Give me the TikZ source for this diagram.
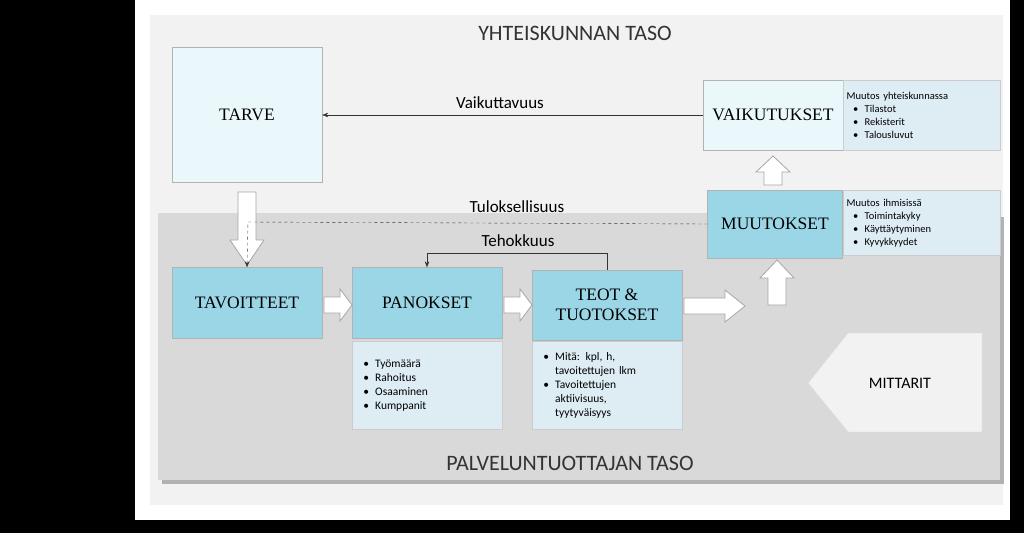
\documentclass[tikz,border=0pt]{standalone}
\usepackage{fontspec}
\setmainfont{Carlito}
\newfontfamily\serf{Liberation Serif}
\usetikzlibrary{arrows.meta,shapes.arrows}
\definecolor{dark}{HTML}{9ad6e6}
\definecolor{pale}{HTML}{eaf8fb}
\definecolor{side}{HTML}{deedf4}
\definecolor{panel}{HTML}{f2f2f2}
\definecolor{lower}{HTML}{d9d9d9}
\newcommand{\bul}[1]{\makebox[18pt][c]{\textbullet}#1}
\newcommand{\cont}[1]{\hspace*{18pt}#1}
\tikzset{
 bx/.style={draw=gray!60, fill=#1, font=\serf\fontsize{17.5}{20}\selectfont, align=center, inner sep=0pt},
 sd/.style={draw=gray!40, fill=side, font=\fontsize{10.5}{13}\selectfont, align=left, inner sep=3pt, anchor=north west},
 ld/.style={draw=gray!40, fill=side, font=\fontsize{11.5}{14}\selectfont, align=left, inner sep=4pt, anchor=north west},
 barr/.style={draw=gray!70, fill=white, line width=0.8pt},
 lbl/.style={font=\fontsize{17}{19}\selectfont},
}
\begin{document}
\begin{tikzpicture}[x=1pt,y=-1pt]
\fill[black] (0,0) rectangle (1024,533);
\useasboundingbox (0,0) rectangle (1024,533);
\fill[white] (135,0) rectangle (1010,520);
\fill[panel] (150,15) rectangle (1003,505);
\fill[gray!60] (162,217) rectangle (1004,484);
\fill[lower] (158,213) rectangle (1000,480);
\node[font=\fontsize{22}{24}\selectfont, text=black!80] (t1) at (575,33) {YHTEISKUNNAN TASO};
\node[font=\fontsize{22}{24}\selectfont, text=black!80] (t2) at (570,463) {PALVELUNTUOTTAJAN TASO};
% boxes
\node[bx=pale, minimum width=150pt, minimum height=135pt] (tarve) at (247,115) {TARVE};
\node[bx=pale, minimum width=140pt, minimum height=70pt] (vaik) at (773,115) {VAIKUTUKSET};
\node[sd, minimum width=157pt, minimum height=70pt, text width=150pt] (vs) at (843,80) {Muutos yhteiskunnassa\\
\bul{Tilastot}\\\bul{Rekisterit}\\\bul{Talousluvut}};
\node[bx=dark, minimum width=135pt, minimum height=68pt] (muut) at (775,224) {MUUTOKSET};
\node[sd, minimum width=157pt, minimum height=65pt, text width=150pt] (ms) at (843,190) {Muutos ihmisissä\\
\bul{Toimintakyky}\\\bul{Käyttäytyminen}\\\bul{Kyvykkyydet}};
\node[bx=dark, minimum width=150pt, minimum height=71pt] (tav) at (247,303) {TAVOITTEET};
\node[bx=dark, minimum width=150pt, minimum height=71pt] (pan) at (427,303) {PANOKSET};
\node[bx=dark, minimum width=150pt, minimum height=70pt] (teot) at (607,305) {TEOT \&\\TUOTOKSET};
\node[ld, minimum width=150pt, minimum height=88pt, text width=140pt] (ps) at (352,341) {\bul{Työmäärä}\\\bul{Rahoitus}\\\bul{Osaaminen}\\\bul{Kumppanit}};
\node[ld, minimum width=150pt, minimum height=88pt, text width=140pt] (tsd) at (532,341) {\bul{Mitä: kpl, h,}\\\cont{tavoitettujen lkm}\\\bul{Tavoitettujen}\\\cont{aktiivisuus,}\\\cont{tyytyväisyys}};
% MITTARIT
\draw[draw=gray!30, fill=panel] (808,383) -- (848,333) -- (982,333) -- (982,432) -- (848,432) -- cycle;
\node[font=\fontsize{16}{18}\selectfont] (mitt) at (900,383) {MITTARIT};
% block arrows
\draw[barr] (324,297) -- (340,297) -- (340,289) -- (352,305) -- (340,321) -- (340,313) -- (324,313) -- cycle;
\draw[barr] (504,297) -- (520,297) -- (520,289) -- (532,305) -- (520,321) -- (520,313) -- (504,313) -- cycle;
\draw[barr] (684,298) -- (725,298) -- (725,290) -- (745,306) -- (725,322) -- (725,314) -- (684,314) -- cycle;
\draw[barr] (768,305) -- (768,278) -- (760,278) -- (777,260) -- (794,278) -- (786,278) -- (786,305) -- cycle;
\draw[barr] (764,185) -- (764,172) -- (756,172) -- (773,156) -- (790,172) -- (782,172) -- (782,185) -- cycle;
\draw[barr] (238,192) -- (256,192) -- (256,240) -- (264,240) -- (247,265) -- (230,240) -- (238,240) -- cycle;
% connectors
\draw[-{Stealth[length=6pt]}, gray!40!black] (vaik.west) -- (tarve.east);
\node[lbl] (l1) at (500,103) {Vaikuttavuus};
\draw[dashed, -{Stealth[length=6pt]}, black!80] (muut.west) -- (248,222) -- (tav.north);
\node[lbl] (l2) at (517,207) {Tuloksellisuus};
\draw[-{Stealth[length=6pt]}, black!80] (teot.north) -- (607,253) -- (427,253) -- (pan.north);
\node[lbl] (l3) at (518,241) {Tehokkuus};
\end{tikzpicture}
\end{document}
